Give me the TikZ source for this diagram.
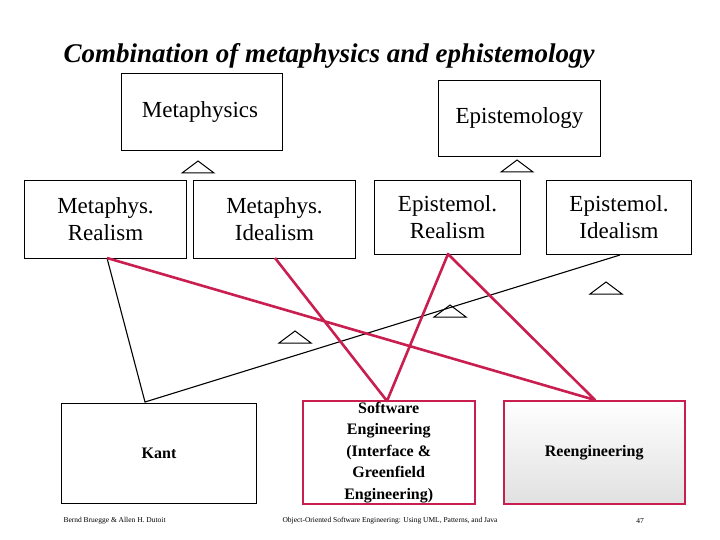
\documentclass[tikz,border=0pt]{standalone}
\usepackage{fontspec}
\setmainfont{Liberation Serif}
\definecolor{crim}{RGB}{200,30,80}
\begin{document}
\begin{tikzpicture}[x=1pt,y=-1pt,
  box/.style={draw,line width=1pt,inner sep=0pt,align=center},
  big/.style={font=\fontsize{23}{27}\selectfont},
  tri/.style={draw,line width=1pt},
  rl/.style={draw=crim,line width=2.6pt},
  bl/.style={draw,line width=1.1pt}]
\useasboundingbox (0,0) rectangle (720,540);
\node[font=\itshape\bfseries\fontsize{27}{30}\selectfont,anchor=west] (title) at (60,56) {Combination of metaphysics and ephistemology};
\node[box,minimum width=161,minimum height=77,anchor=north west] (meta) at (121,73) {};
\node[big] (metat) at (200,112) {Metaphysics};
\node[box,big,minimum width=162,minimum height=76,anchor=north west] (epi) at (438,80) {Epistemology};
\node[box,big,minimum width=162,minimum height=78,anchor=north west] (mr) at (24,180) {Metaphys.\\Realism};
\node[box,big,minimum width=162,minimum height=78,anchor=north west] (mi) at (193,180) {Metaphys.\\Idealism};
\node[box,big,minimum width=146,minimum height=74,anchor=north west] (er) at (374,180) {Epistemol.\\Realism};
\node[box,big,minimum width=145,minimum height=74,anchor=north west] (ei) at (546,180) {Epistemol.\\Idealism};
\node[box,minimum width=195,minimum height=100,anchor=north west,font=\bfseries\fontsize{16}{18}\selectfont] (kant) at (61,403) {Kant};
\node[box,draw=crim,line width=1.5pt,minimum width=172,minimum height=103,anchor=north west,font=\bfseries\fontsize{16}{21.5}\selectfont] (se) at (302,400) {Software\\Engineering\\(Interface \&\\Greenfield\\Engineering)};
\node[box,draw=crim,line width=1.5pt,top color=white,bottom color=black!12,minimum width=181,minimum height=103,anchor=north west,font=\bfseries\fontsize{16}{18}\selectfont] (re) at (503,400) {Reengineering};
\foreach \x/\y [count=\i] in {198/173,517/172,295/343,450/317,606/294}
  \draw[tri] (\x-16,\y) -- (\x,\y-12) -- (\x+16,\y) -- cycle;
\coordinate (kt) at (145,402);
\coordinate (mrb) at (107,258);
\coordinate (eib) at (620,255);
\coordinate (mib) at (275,258);
\coordinate (erb) at (448,254);
\coordinate (set) at (387,401);
\coordinate (ret) at (595,400);
\draw[bl] (mrb) -- (kt) -- (eib);
\draw[rl,line join=round] (mib) -- (set) -- (erb) -- (ret) -- (mrb);
\node[font=\fontsize{7.5}{8}\selectfont,anchor=west] (f1) at (60,521) {Bernd Bruegge \& Allen H. Dutoit};
\node[font=\fontsize{7.5}{8}\selectfont] (f2) at (390,521) {Object-Oriented Software Engineering: Using UML, Patterns, and Java};
\node[font=\fontsize{7.5}{8}\selectfont] (f3) at (640,521) {47};
\end{tikzpicture}
\end{document}
